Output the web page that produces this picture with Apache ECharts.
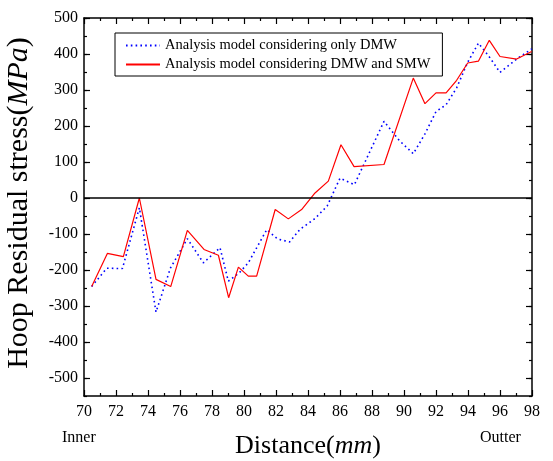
<!DOCTYPE html>
<html>
<head>
<meta charset="utf-8">
<script src="https://cdn.jsdelivr.net/npm/echarts@6/dist/echarts.min.js"></script>
<style>
html,body{margin:0;padding:0;background:#fff;}
#chart{width:553px;height:461px;}
</style>
</head>
<body>
<div id="chart"></div>
<script>
// Analysis model considering only DMW (blue dotted)
const dmwX = [70.48, 71.42, 72.4, 73.46, 74.5, 75.4, 76.46, 77.46, 78.5, 79.02, 79.7, 80.27, 81.42, 82.1, 82.85, 83.5, 84.44, 85.2, 86.0, 86.9, 88.75, 89.7, 90.58, 91.31, 92.0, 92.63, 93.29, 93.98, 94.65, 95.33, 96.0, 97.04, 97.98];
const dmwY = [-246, -195, -196, -27, -317, -195, -113, -180, -138, -231, -208, -180, -88, -114, -122, -87, -57, -22, 55, 37, 213, 160, 123, 178, 240, 259, 306, 377, 430, 392, 349, 386, 414];
// Analysis model considering DMW and SMW (red solid)
const smwX = [70.48, 71.46, 72.46, 73.46, 74.5, 75.42, 76.46, 77.5, 78.4, 79.04, 79.65, 80.27, 80.79, 81.95, 82.77, 83.6, 84.44, 85.27, 86.06, 86.88, 88.75, 90.58, 91.31, 92.0, 92.63, 93.29, 93.98, 94.65, 95.33, 96.0, 97.04, 97.98];
const smwY = [-246, -154, -163, 0, -226, -246, -90, -143, -159, -277, -192, -217, -217, -32, -58, -32, 14, 47, 148, 87, 93, 333, 262, 292, 292, 327, 375, 380, 438, 393, 386, 407];
const yMajorTicks = [-500, -400, -300, -200, -100, 0, 100, 200, 300, 400, 500];
const seriesNames = ['Analysis model considering only DMW', 'Analysis model considering DMW and SMW'];

const pair = (xs, ys) => xs.map((x, i) => [x, ys[i]]);
const FONT = '"Liberation Serif", "DejaVu Serif", serif';

const chart = echarts.init(document.getElementById('chart'), null, {renderer: 'canvas'});

const baseX = (pos, labels) => ({
  type: 'value', position: pos, min: 70, max: 98, interval: 2,
  axisLine: {show: true, onZero: false, lineStyle: {color: '#000', width: 1.5}},
  axisTick: {show: true, inside: true, length: 6, lineStyle: {color: '#000', width: 1.2}},
  minorTick: {show: true, splitNumber: 2, length: 3, lineStyle: {color: '#000', width: 1.2}},
  splitLine: {show: false},
  axisLabel: {show: labels, color: '#000', fontFamily: FONT, fontSize: 16, margin: 8}
});
const baseY = (pos, labels) => ({
  type: 'value', position: pos, min: -550, max: 500, interval: 50,
  axisLine: {show: true, onZero: false, lineStyle: {color: '#000', width: 1.5}},
  axisTick: {show: true, inside: true, length: 3, lineStyle: {color: '#000', width: 1.2}},
  splitLine: {show: false},
  axisLabel: {show: labels, color: '#000', fontFamily: FONT, fontSize: 16, margin: 6,
    formatter: v => (v % 100 === 0 ? String(v) : '')}
});
const majorY = (pos) => ({
  type: 'value', position: pos, min: -550, max: 500,
  axisLine: {show: false},
  axisTick: {show: true, inside: true, length: 6, customValues: yMajorTicks, lineStyle: {color: '#000', width: 1.2}},
  splitLine: {show: false},
  axisLabel: {show: false}
});

const xMain = baseX('bottom', true);
xMain.name = '{n|Distance(}{i|mm}{n|)}';
xMain.nameLocation = 'middle';
xMain.nameGap = 37;
xMain.nameTextStyle = {rich: {
  n: {fontFamily: FONT, fontSize: 26, color: '#000'},
  i: {fontFamily: FONT, fontSize: 26, fontStyle: 'italic', color: '#000'}
}};

const yMain = baseY('left', true);
yMain.name = '{n|Hoop Residual stress(}{i|MPa}{n|)}';
yMain.nameLocation = 'middle';
yMain.nameRotate = 90;
yMain.nameGap = 50;
yMain.nameTextStyle = {padding: [0, 0, 0, 8], rich: {
  n: {fontFamily: FONT, fontSize: 30, color: '#000'},
  i: {fontFamily: FONT, fontSize: 30, fontStyle: 'italic', color: '#000'}
}};

chart.setOption({
  animation: false,
  backgroundColor: '#fff',
  grid: {left: 84, right: 21, top: 18, bottom: 65, containLabel: false, outerBoundsMode: 'none'},
  legend: {
    left: 115, top: 33, orient: 'vertical',
    backgroundColor: '#fff', borderColor: '#000', borderWidth: 1,
    padding: [5, 12, 4, 10], itemGap: 4, itemWidth: 34, itemHeight: 12,
    itemStyle: {opacity: 0},
    textStyle: {fontFamily: FONT, fontSize: 14.5, color: '#000'},
    data: seriesNames
  },
  xAxis: [xMain, baseX('top', false)],
  yAxis: [yMain, baseY('right', false), majorY('left'), majorY('right')],
  series: [
    {
      name: seriesNames[0], type: 'line', xAxisIndex: 0, yAxisIndex: 0,
      data: pair(dmwX, dmwY), symbol: 'none', smooth: false,
      lineStyle: {color: '#0000ff', width: 1.6, type: [1.6, 3.2]},
      itemStyle: {color: '#0000ff'}, z: 3
    },
    {
      name: seriesNames[1], type: 'line', xAxisIndex: 0, yAxisIndex: 0,
      data: pair(smwX, smwY), symbol: 'none', smooth: false,
      lineStyle: {color: '#ff0000', width: 1.2, type: 'solid'},
      itemStyle: {color: '#ff0000'}, z: 4,
      markLine: {
        silent: true, symbol: 'none', label: {show: false},
        lineStyle: {color: '#000', width: 1.5, type: 'solid'},
        data: [{yAxis: 0}]
      }
    }
  ],
  graphic: [
    {type: 'text', left: 62, top: 430, style: {text: 'Inner', font: '16px ' + FONT, fill: '#000'}},
    {type: 'text', left: 480, top: 430, style: {text: 'Outter', font: '16px ' + FONT, fill: '#000'}}
  ]
});
</script>
</body>
</html>
